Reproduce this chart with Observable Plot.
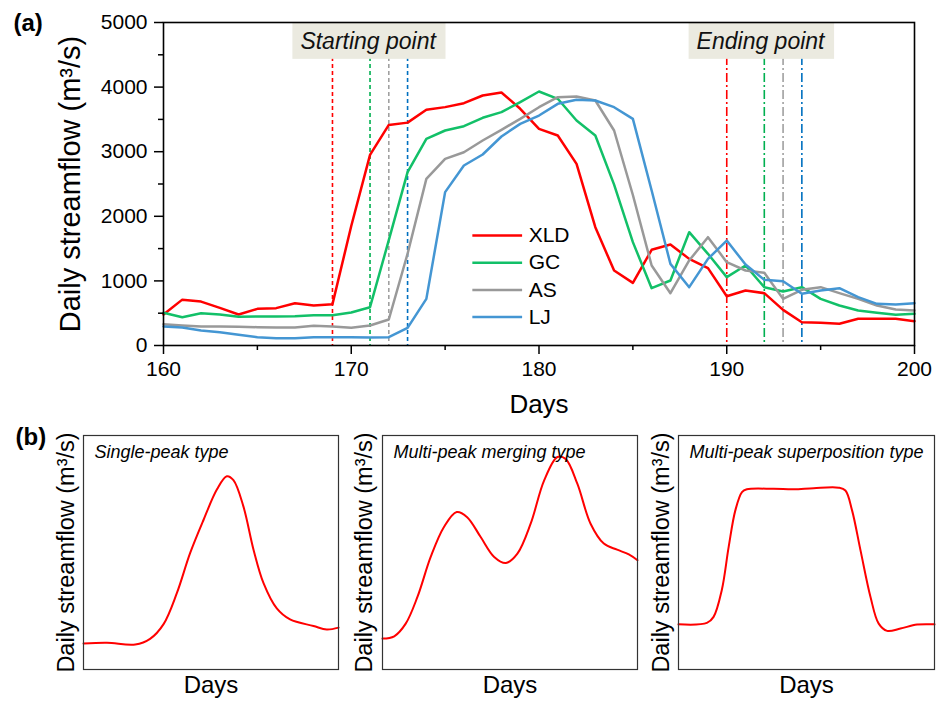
<!DOCTYPE html>
<html><head><meta charset="utf-8">
<script src="https://cdn.jsdelivr.net/npm/d3@7"></script>
<script src="https://cdn.jsdelivr.net/npm/@observablehq/plot@0.6"></script>
<style>
body{margin:0;background:#fff;}
#root{position:relative;width:936px;height:702px;overflow:hidden;font-family:"Liberation Sans",Arial,sans-serif;}
#root svg{position:absolute;overflow:visible;}
</style></head><body><div id="root"></div>
<script>
// ---------- data: panel (a) ----------
const days = d3.range(160, 201);
const seriesNames = ["XLD", "GC", "AS", "LJ"];
const xld = [480,710,680,583,480,567,578,655,619,640, 1850,2950,3415,3450,3648,3690,3751,3870,3916,3664, 3354,3250,2812,1831,1160,970,1481,1563,1341,1197, 763,851,810,552,361,351,336,413,413,413,377];
const gc  = [506,438,500,480,444,449,449,454,470,470, 511,593,1630,2683,3199,3328,3395,3525,3612,3767, 3932,3819,3483,3250,2490,1600,887,1006,1754,1419, 1058,1238,903,836,903,722,619,542,506,475,490];
const as  = [330,310,294,294,289,284,279,279,304,294, 273,310,402,1420,2580,2890,2992,3173,3339,3509, 3689,3844,3854,3792,3328,2330,1238,810,1316,1677, 1290,1161,1125,722,862,903,810,722,619,557,542];
const lj  = [294,279,232,206,165,129,113,113,129,129, 129,124,129,273,722,2374,2786,2957,3235,3431, 3560,3741,3803,3792,3689,3509,2399,1264,903,1341, 1625,1253,1016,995,800,851,887,748,645,635,655];
const startDays = [169, 171, 172, 173];
const endDays = [190, 192, 193, 194];
const xTicks = [160, 170, 180, 190, 200];
const xMinorTicks = [165, 175, 185, 195];
const yTicks = [0, 1000, 2000, 3000, 4000, 5000];
const yMinorTicks = [500, 1500, 2500, 3500, 4500];
const annotationTexts = ["Starting point", "Ending point"];

// ---------- data: panel (b) ----------
const panelTitles = ["Single-peak type", "Multi-peak merging type", "Multi-peak superposition type"];
const singleX = [0,9.2,20.3,26.1,31.4,36.6,41.8,47.1,52.3,56.2,58.8,62.7,66.7,70.6,75.8,81.0,90.2,95.4,100];
const singleY = [11.1,11.4,10.7,13.1,19.4,32.6,49.7,64.0,76.9,82.6,80.9,69.7,51.1,36.9,26.1,21.4,18.6,17.1,17.9];
const mergeX = [0,4.6,9.1,13.7,18.9,24.1,29.1,33.2,38.5,43.8,48.4,52.9,58.1,63.4,68.6,71.8,76.4,81.6,86.8,92.0,96.6,100];
const mergeY = [13.2,14.2,19.6,31.0,48.1,60.9,67.3,65.1,56.6,48.1,45.5,49.5,62.3,80.8,90.8,90.0,79.4,62.3,53.8,51.2,49.2,46.7];
const superX = [0,11.1,13.7,16.9,19.6,22.2,24.8,26.7,37.2,45.0,52.8,62.6,65.2,67.8,71.1,75.0,78.2,81.5,86.7,93.2,100];
const superY = [19.3,19.9,22.5,33.9,52.4,68.0,75.8,77.0,77.2,77.0,77.5,77.7,76.5,68.0,50.9,31.0,19.6,16.5,17.5,19.2,19.3];

// ---------- styles ----------
const FONT = '"Liberation Sans", Arial, sans-serif';
const lineColors = ["#ff0000", "#12c068", "#999999", "#4496d3"];
const ruleColors = ["#ff0000", "#00b050", "#a0a0a0", "#0070c0"];
const root = document.getElementById("root");

// ---------- panel (a) ----------
const flows = [xld, gc, as, lj];
const table = seriesNames.flatMap((s, i) => days.map((d, j) => ({series: s, day: d, q: flows[i][j]})));
const starts = seriesNames.map((s, i) => ({series: s, day: startDays[i], color: ruleColors[i]}));
const ends = seriesNames.map((s, i) => ({series: s, day: endDays[i], color: ruleColors[i]}));
const annots = [
  {text: annotationTexts[0], day: d3.mean(startDays) - 0.35},
  {text: annotationTexts[1], day: d3.mean(endDays) - 0.45}
];
const legendRows = seriesNames.map((s, i) => ({series: s, i}));
const leg = {x1: 176.45, x2: 179.1, tx: 179.45, y0: 1703, step: 421};

const topPlot = Plot.plot({
  width: 936, height: 420,
  marginLeft: 163, marginRight: 22, marginTop: 22, marginBottom: 75,
  style: {fontFamily: FONT, fontSize: "21px", color: "black", background: "transparent"},
  x: {domain: [160, 200]},
  y: {domain: [0, 5000]},
  color: {domain: seriesNames, range: lineColors},
  marks: [
    Plot.ruleX(starts, {x: "day", stroke: "color", strokeWidth: 1.6, strokeDasharray: "4,3"}),
    Plot.ruleX(ends, {x: "day", stroke: "color", strokeWidth: 1.6, strokeDasharray: "9,3,2,3"}),
    Plot.line(table, {x: "day", y: "q", z: "series", stroke: "series", strokeWidth: 2.5}),
    Plot.text(annots, {x: "day", frameAnchor: "top", dy: 19, lineAnchor: "middle", textAnchor: "middle", text: "text",
      fontStyle: "italic", fontSize: 23, fill: "#111"}),
    Plot.link(legendRows, {x1: () => leg.x1, x2: () => leg.x2,
      y1: d => leg.y0 - d.i * leg.step, y2: d => leg.y0 - d.i * leg.step,
      stroke: "series", strokeWidth: 2.5}),
    Plot.text(legendRows, {x: () => leg.tx, y: d => leg.y0 - d.i * leg.step, text: "series",
      textAnchor: "start", lineAnchor: "middle", fontSize: 21}),
    Plot.axisX(xTicks, {tickSize: 9, tickPadding: 7, strokeWidth: 1.5, fontSize: 21, label: null, tickFormat: "d"}),
    Plot.axisX(xMinorTicks, {tickSize: 5, strokeWidth: 1.5, text: null, label: null}),
    Plot.axisY(yTicks, {tickSize: 9, tickPadding: 7, strokeWidth: 1.5, fontSize: 21, label: null, tickFormat: "d"}),
    Plot.axisY(yMinorTicks, {tickSize: 5, strokeWidth: 1.5, text: null, label: null}),
    Plot.frame({stroke: "black", strokeWidth: 1.6}),
    Plot.text(["Days"], {frameAnchor: "bottom", dy: 59, lineAnchor: "middle", textAnchor: "middle", fontSize: 26}),
    Plot.text(["Daily streamflow (m³/s)"], {frameAnchor: "left", dx: -93, rotate: -90, lineAnchor: "middle", textAnchor: "middle", fontSize: 29}),
    Plot.text(["(a)"], {frameAnchor: "top-left", dx: -150, dy: 1, lineAnchor: "middle", textAnchor: "start", fontWeight: "bold", fontSize: 24})
  ]
});
topPlot.style.left = "0px";
topPlot.style.top = "0px";
root.appendChild(topPlot);

// boxes behind the annotation texts
topPlot.querySelectorAll("text").forEach(t => {
  if (!annotationTexts.includes(t.textContent)) return;
  const b = t.getBBox();
  const r = document.createElementNS("http://www.w3.org/2000/svg", "rect");
  r.setAttribute("x", b.x - 8);
  r.setAttribute("y", b.y - 5);
  r.setAttribute("width", b.width + 16);
  r.setAttribute("height", b.height + 10);
  r.setAttribute("fill", "#ebeae0");
  r.setAttribute("stroke", "none");
  const tr = t.getAttribute("transform");
  if (tr) r.setAttribute("transform", tr);
  t.parentNode.insertBefore(r, t);
});

// ---------- panel (b) ----------
const panels = [
  {title: panelTitles[0], xs: singleX, ys: singleY, left: 0, width: 340, ml: 83, mr: 2, labelDx: -17},
  {title: panelTitles[1], xs: mergeX, ys: mergeY, left: 340, width: 300, ml: 42, mr: 3, labelDx: -18},
  {title: panelTitles[2], xs: superX, ys: superY, left: 640, width: 296, ml: 38, mr: 2, labelDx: -17}
];
panels.forEach((p, k) => {
  const data = p.xs.map((x, i) => ({x, y: p.ys[i]}));
  const marks = [
    Plot.line(data, {x: "x", y: "y", curve: "catmull-rom", stroke: "#ff0000", strokeWidth: 2}),
    Plot.frame({stroke: "#333", strokeWidth: 1.2}),
    Plot.text([p.title], {frameAnchor: "top-left", dx: 11, dy: 17, lineAnchor: "middle", textAnchor: "start", fontStyle: "italic", fontSize: 18}),
    Plot.text(["Days"], {frameAnchor: "bottom", dy: 16, lineAnchor: "middle", textAnchor: "middle", fontSize: 24}),
    Plot.text(["Daily streamflow (m³/s)"], {frameAnchor: "left", dx: p.labelDx, rotate: -90, lineAnchor: "middle", textAnchor: "middle", fontSize: 23.5})
  ];
  if (k === 0) marks.push(Plot.text(["(b)"], {frameAnchor: "top-left", dx: -68, dy: 2, lineAnchor: "middle", textAnchor: "start", fontWeight: "bold", fontSize: 24}));
  const svg = Plot.plot({
    width: p.width, height: 282,
    marginLeft: p.ml, marginRight: p.mr, marginTop: 15, marginBottom: 33,
    style: {fontFamily: FONT, color: "black", background: "transparent"},
    x: {domain: [0, 100], axis: null},
    y: {domain: [0, 100], axis: null},
    marks
  });
  svg.style.left = p.left + "px";
  svg.style.top = "420px";
  root.appendChild(svg);
});
</script>
</body></html>
